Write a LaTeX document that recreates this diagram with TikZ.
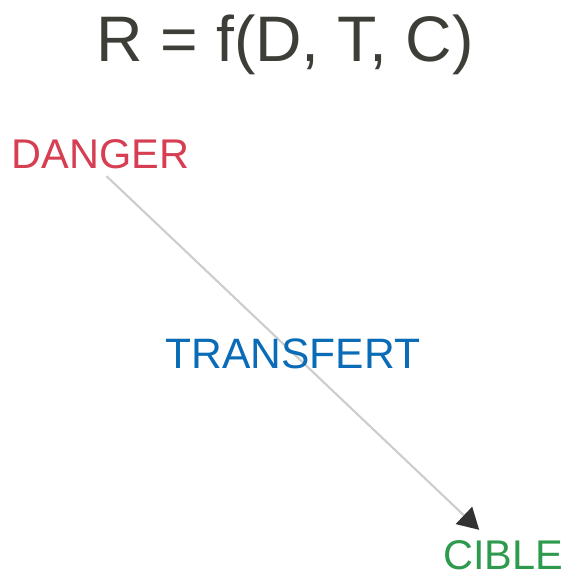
\documentclass[tikz,border=0pt]{standalone}
\usepackage{fontspec}
\setmainfont{Liberation Sans}
\usetikzlibrary{arrows.meta}

\definecolor{titlegray}{RGB}{62,62,56}
\definecolor{dangerred}{RGB}{214,62,82}
\definecolor{transblue}{RGB}{10,107,182}
\definecolor{ciblegreen}{RGB}{46,154,78}
\definecolor{linegray}{RGB}{205,205,205}
\definecolor{tipgray}{RGB}{50,50,50}

\begin{document}
\begin{tikzpicture}[x=0.01cm,y=-0.01cm,
	label/.style={inner sep=0pt,font=\fontsize{11.8}{14}\selectfont},
	transfer/.style={draw=linegray,line width=0.6pt,
		-{Triangle[length=2.1mm,width=2.35mm,color=tipgray]}}]
	\useasboundingbox (0,0) rectangle (565,574);

	\node (title) at (285,62)[anchor=base,inner sep=0pt,text=titlegray,
		font=\fontsize{18.3}{20}\selectfont]{R = f(D, T, C)};
	\node (danger) at (11,169)[anchor=base west,label,text=dangerred]{DANGER};
	\node (cible) at (442.5,569.5)[anchor=base west,label,text=ciblegreen]{CIBLE};

	\draw [transfer]([xshift=0.6mm,yshift=-0.6mm]danger.south)
		--([xshift=-2.4mm,yshift=1.0mm]cible.north);

	\node (transfert) at (165,368)[anchor=base west,label,text=transblue,
		font=\fontsize{12.1}{14}\selectfont]{TRANSFERT};
\end{tikzpicture}
\end{document}
